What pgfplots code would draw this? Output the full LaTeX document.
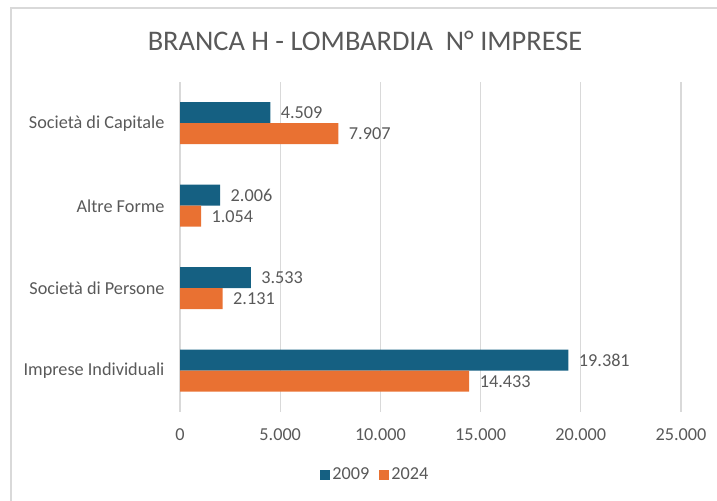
\documentclass[border=0pt]{standalone}
\usepackage{pgfplots}
\pgfplotsset{compat=1.18}
\usepackage{fontspec}
\setmainfont{Carlito}
\definecolor{c09}{HTML}{156082}
\definecolor{c24}{HTML}{E97132}
\definecolor{txt}{HTML}{595959}
\definecolor{grd}{HTML}{D9D9D9}
\begin{document}
\begin{tikzpicture}[x=1bp,y=1bp]
\path[use as bounding box] (0,0) rectangle (717,501);
\draw[grd,line width=1.5bp] (11,0) -- (11,493) -- (717,493);
\node[txt,font=\fontsize{28.5}{32}\selectfont] at (365,460) {BRANCA H - LOMBARDIA\ \ N° IMPRESE};
\begin{axis}[
  at={(180bp,89bp)}, anchor=south west,
  scale only axis, width=501bp, height=330bp,
  xbar, bar width=21bp,
  xmin=0, xmax=25000, ymin=-0.5, ymax=3.5,
  xtick={0,5000,10000,15000,20000,25000},
  ytick={0,1,2,3},
  yticklabels={Imprese Individuali,Società di Persone,Altre Forme,Società di Capitale},
  axis line style={draw=none},
  major tick length=0pt,
  xmajorgrids, grid style={grd,line width=1.2bp},
  tick label style={txt,font=\fontsize{18.3}{22}\selectfont},
  xticklabel style={yshift=-13bp},
  yticklabel style={xshift=-12bp},
  /pgf/number format/.cd, 1000 sep={.}, assume math mode=true,
  /pgfplots/.cd,
  scaled x ticks=false,
  point meta=x,
  nodes near coords={\pgfmathprintnumber[1000 sep={.},assume math mode=true]{\pgfplotspointmeta}},
  nodes near coords style={txt,font=\fontsize{18.3}{22}\selectfont,anchor=west,xshift=7bp},
  legend columns=2,
  legend style={at={(axis description cs:0.39,-0.19)},anchor=center,draw=none,fill=none,
    font=\fontsize{18.3}{22}\selectfont,text=txt,
    /tikz/every even column/.append style={column sep=8bp}},
  legend image code/.code={\fill[#1] (0bp,-5bp) rectangle (10bp,5bp);},
]
\addplot[fill=c09,draw=none,bar shift=10.5bp] coordinates {(19381,0) (3533,1) (2006,2) (4509,3)};
\addplot[fill=c24,draw=none,bar shift=-10.5bp] coordinates {(14433,0) (2131,1) (1054,2) (7907,3)};
\legend{2009,2024}
\end{axis}
\end{tikzpicture}
\end{document}
